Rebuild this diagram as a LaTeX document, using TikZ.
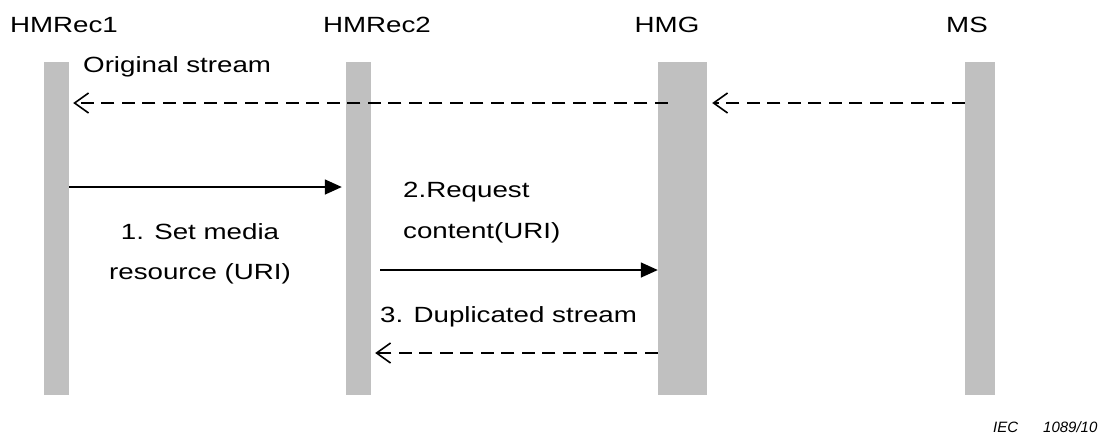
\documentclass[tikz,border=0pt]{standalone}
\usepackage{fontspec}
\setmainfont{Liberation Sans}[FakeStretch=1.26]
\newfontfamily\iecfont{Liberation Sans}
\usetikzlibrary{arrows.meta}
\definecolor{lifegray}{RGB}{192, 192, 192}
\tikzstyle{lifeline} = [rectangle, fill=lifegray, inner sep=0pt,
    minimum height=333pt]
\tikzstyle{actor} = [anchor=base, inner sep=0pt, font=\fontsize{22}{26}\selectfont]
\tikzstyle{msgtext} = [anchor=base west, inner sep=0pt, font=\fontsize{22}{26}\selectfont]
\tikzstyle{call} = [draw, line width=1.5pt, -{Triangle[length=17pt,width=15pt]}]
\tikzstyle{reply} = [draw, line width=1.6pt, dash pattern=on 13pt off 7.5pt,
    -{Straight Barb[length=14pt,width=20pt,line width=1.6pt]}]

\begin{document}
\begin{tikzpicture}[x=1pt, y=-1pt, node distance=300pt]
  \useasboundingbox (0,0) rectangle (1101,437);
  % lifelines
  \node [lifeline, minimum width=25pt] (rec1) at (56.5,228.5) {};
  \node [lifeline, minimum width=25pt, right of=rec1, node distance=302pt] (rec2) {};
  \node [lifeline, minimum width=49pt, right of=rec2, node distance=324pt] (hmg) {};
  \node [lifeline, minimum width=30pt, right of=hmg, node distance=297.5pt] (ms) {};
  \node [actor] (rec1_name) at (64,32) {HMRec1};
  \node [actor] (rec2_name) at (377,32) {HMRec2};
  \node [actor] (hmg_name) at (667,32) {HMG};
  \node [actor] (ms_name) at (967,32) {MS};
  % original stream
  \coordinate (ms_src) at (ms.west |- 0,103);
  \coordinate (hmg_in) at ([xshift=5pt]hmg.east |- 0,103);
  \coordinate (hmg_src) at ([xshift=10pt]hmg.west |- 0,103);
  \coordinate (rec1_in) at ([xshift=4pt]rec1.east |- 0,103);
  \path [reply] (ms_src) -- (hmg_in);
  \path [reply] (hmg_src) -- (rec1_in);
  \node [msgtext] (orig_label) at (83,72) {Original stream};
  % 1. set media resource
  \coordinate (rec1_out) at (rec1.east |- 0,187);
  \coordinate (rec2_in) at ([xshift=-4pt]rec2.west |- 0,187);
  \path [call] (rec1_out) -- (rec2_in);
  \node [actor, align=center] (set_label) at (200,279) {1. Set media\\[14pt]resource (URI)};
  % 2. request content
  \coordinate (rec2_out) at ([xshift=9pt]rec2.east |- 0,270);
  \coordinate (hmg_req) at (hmg.west |- 0,270);
  \path [call] (rec2_out) -- (hmg_req);
  \node [msgtext, align=left] (req_label) at (403,238) {2.Request\\[15pt]content(URI)};
  % 3. duplicated stream
  \coordinate (hmg_out) at (hmg.west |- 0,353);
  \coordinate (rec2_back) at ([xshift=4pt]rec2.east |- 0,353);
  \path [reply] (hmg_out) -- (rec2_back);
  \node [msgtext] (dup_label) at (380,322) {3. Duplicated stream};
  \node [anchor=base west, inner sep=0pt, font=\iecfont\fontsize{15}{18}\selectfont\itshape] (iec) at (993,432) {IEC\hspace{25pt}1089/10};
\end{tikzpicture}
\end{document}
